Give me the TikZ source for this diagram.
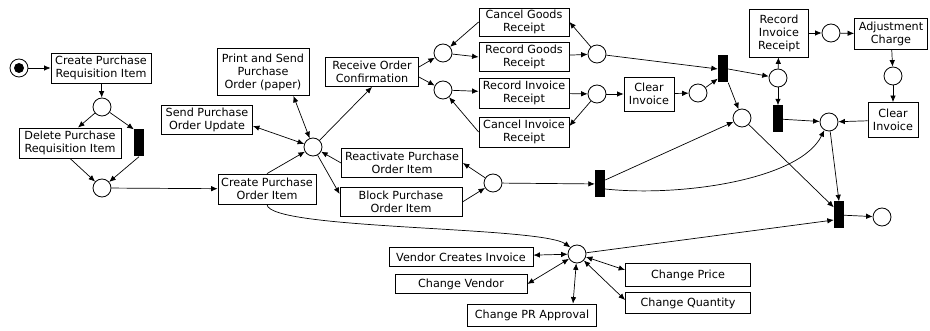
\documentclass[tikz,border=0pt]{standalone}
\usepackage{fontspec}
\setmainfont{DejaVu Sans}
\usetikzlibrary{arrows.meta}
\begin{document}
\begin{tikzpicture}[x=1pt,y=-1pt,
  box/.style={draw,line width=0.8pt,align=center,inner sep=1pt,font=\fontsize{11.2}{13}\selectfont},
  pl/.style={circle,draw,line width=0.8pt,minimum size=18pt,inner sep=0pt},
  token/.style={path picture={\fill (path picture bounding box.center) circle (5pt);}},
  bar/.style={fill=black,minimum width=10pt,minimum height=27pt,inner sep=0pt},
  arr/.style={-{Latex[length=6.5pt,width=5.5pt]},line width=0.7pt},
  dbl/.style={{Latex[length=6.5pt,width=5.5pt]}-{Latex[length=6.5pt,width=5.5pt]},line width=0.7pt}]
  \useasboundingbox (0,0) rectangle (930,331);
  \node[pl,token] (s0) at (19,68) {};
  \node[box,minimum width=100,minimum height=30] (cpri) at (101,68) {Create Purchase\\Requisition Item};
  \node[pl] (p1) at (102,107) {};
  \node[box,minimum width=102,minimum height=30] (dpri) at (70,143) {Delete Purchase\\Requisition Item};
  \node[bar] (t0) at (139,143) {};
  \node[pl] (p2) at (102,188) {};
  \node[box,minimum width=98,minimum height=30] (cpoi) at (267,189) {Create Purchase\\Order Item};
  \node[pl] (hub) at (313,147) {};
  \node[box,minimum width=92,minimum height=47] (psp) at (263,72) {Print and Send\\Purchase\\Order (paper)};
  \node[box,minimum width=91,minimum height=29] (spou) at (207,120) {Send Purchase\\Order Update};
  \node[box,minimum width=93,minimum height=29] (roc) at (372,72) {Receive Order\\Confirmation};
  \node[box,minimum width=121,minimum height=29] (rpoi) at (402,163) {Reactivate Purchase\\Order Item};
  \node[box,minimum width=122,minimum height=29] (bpoi) at (401,202) {Block Purchase\\Order Item};
  \node[pl] (p4) at (493,183) {};
  \node[bar] (t2) at (600,184) {};
  \node[pl] (p5) at (443,53) {};
  \node[pl] (p6) at (443,90) {};
  \node[box,minimum width=90,minimum height=28] (cgr) at (524,22) {Cancel Goods\\Receipt};
  \node[box,minimum width=90,minimum height=29] (rgr) at (524,57) {Record Goods\\Receipt};
  \node[box,minimum width=90,minimum height=30] (rir) at (524,93) {Record Invoice\\Receipt};
  \node[box,minimum width=90,minimum height=30] (cir) at (524,132) {Cancel Invoice\\Receipt};
  \node[pl] (p7) at (597,54) {};
  \node[pl] (p8) at (597,94) {};
  \node[box,minimum width=50,minimum height=34] (ci1) at (649,94) {Clear\\Invoice};
  \node[pl] (p9) at (698,93) {};
  \node[bar] (t3) at (723,69) {};
  \node[pl] (p10) at (778,78) {};
  \node[pl] (p11) at (742,118) {};
  \node[box,minimum width=59,minimum height=48] (rir2) at (779,33) {Record\\Invoice\\Receipt};
  \node[pl] (p12) at (831,33) {};
  \node[box,minimum width=73,minimum height=31] (adj) at (891,34) {Adjustment\\Charge};
  \node[pl] (p13) at (893,76) {};
  \node[box,minimum width=50,minimum height=35] (ci2) at (893,120) {Clear\\Invoice};
  \node[bar] (t4) at (778,119) {};
  \node[pl] (p14) at (829,122) {};
  \node[bar] (t5) at (839,215) {};
  \node[pl] (p15) at (882,217) {};
  \node[pl] (p16) at (577,254) {};
  \node[box,minimum width=144,minimum height=19] (vci) at (461,257) {Vendor Creates Invoice};
  \node[box,minimum width=132,minimum height=19] (cv) at (461,284) {Change Vendor};
  \node[box,minimum width=129,minimum height=22] (cpr) at (532,315) {Change PR Approval};
  \node[box,minimum width=125,minimum height=23] (cp) at (688,275) {Change Price};
  \node[box,minimum width=125,minimum height=21] (cq) at (688,303) {Change Quantity};
  \draw[arr] (s0)--(cpri); \draw[arr] (cpri)--(p1);
  \draw[arr] (p1)--([xshift=8pt]dpri.north); \draw[arr] (p1)--(t0.north west);
  \draw[arr] (dpri.south)--(p2); \draw[arr] (t0.south)--(p2); \draw[arr] (p2)--(cpoi);
  \draw[arr] (cpoi.north)--(hub); \draw[dbl] ([xshift=-16pt]psp.south east)--(hub); \draw[dbl] ([yshift=-6pt]spou.east)--(hub);
  \draw[arr] (hub)--(roc.south); \draw[arr] (rpoi.west)--(hub); \draw[arr] (hub)--([yshift=8pt]bpoi.west);
  \draw[arr] (bpoi.east)--(p4); \draw[arr] (p4)--(rpoi.east); \draw[arr] (p4)--(t2);
  \draw[arr] ([yshift=5pt]roc.east)--(p5); \draw[arr] ([yshift=-5pt]roc.east)--(p6);
  \draw[arr] (p5)--(rgr.west); \draw[arr] (cgr.west)--(p5); \draw[arr] (rgr)--(p7); \draw[arr] (p7)--(cgr.east);
  \draw[arr] (p6)--(rir); \draw[arr] (cir.west)--(p6); \draw[arr] (rir)--(p8); \draw[arr] (p8)--([yshift=6pt]cir.east);
  \draw[arr] (p8)--(ci1); \draw[arr] (ci1)--(p9); \draw[arr] (p9)--([yshift=4pt]t3.south west); \draw[arr] (p7)--(t3.west);
  \draw[arr] (t3.east)--(p10); \draw[arr] (t3.south east)--(p11);
  \draw[arr] (p10)--(rir2); \draw[arr] (p10)--(t4); \draw[arr] (rir2)--(p12); \draw[arr] (p12)--(adj);
  \draw[arr] (adj)--(p13); \draw[arr] (p13)--(ci2); \draw[arr] (ci2)--(p14); \draw[arr] (t4)--(p14);
  \draw[arr] ([yshift=4pt]t2.east)--(p11);
  \draw[arr] ([yshift=-5pt]t2.east) .. controls (680,197) and (800,180) .. (p14.-120);
  \draw[arr] (p11)--([yshift=-6pt]t5.north west); \draw[arr] (p14)--(t5.north); \draw[arr] (t5)--(p15);
  \draw[arr] (cpoi.south) .. controls (268,230) and (540,226) .. (p16.north west);
  \draw[arr] (p16)--([yshift=-5pt]t5.west);
  \draw[dbl] (vci)--(p16); \draw[dbl] (cv.east)--(p16); \draw[dbl] ([xshift=41pt]cpr.north)--(p16);
  \draw[dbl] ([yshift=5pt]cp.west)--(p16); \draw[dbl] ([yshift=3pt]cq.west)--(p16);
\end{tikzpicture}
\end{document}
